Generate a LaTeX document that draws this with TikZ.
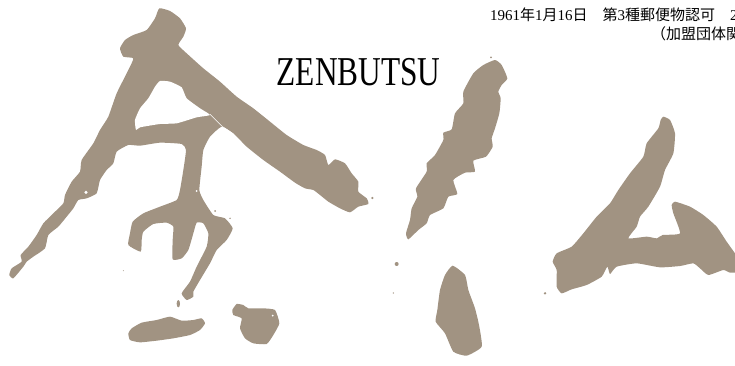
\documentclass[tikz,border=0pt]{standalone}
\usepackage{fontspec}
\setmainfont{Liberation Serif}
\newfontfamily\jpfont{Noto Sans CJK JP}
\definecolor{ink}{HTML}{A19382}
\tikzset{
  inkblob/.style={fill=ink,draw=none},
  gap/.style={fill=white,draw=none},
  cutline/.style={draw=white,line width=0.5pt},
  headline/.style={inner sep=0pt,anchor=base west,font=\fontsize{15}{18}\selectfont}
}
\newcommand{\sm}{plot[smooth cycle,tension=0.3] coordinates}
\begin{document}
\begin{tikzpicture}[x=0.33333pt,y=-0.33333pt]
\useasboundingbox (0,0) rectangle (2205,1095);
\clip (0,0) rectangle (2205,1095);
% nen: main body
\fill[inkblob] \sm {(478,25)(510,33)(540,55)(558,85)(550,110)(535,135)(560,160)(610,205)(660,245)(710,290)(760,325)(810,365)(860,405)(910,435)(950,450)(975,465)(985,495)(1005,478)(1035,490)(1055,520)(1075,545)(1075,575)(1100,595)(1105,612)(1075,620)(1050,637)(1020,625)(985,605)(960,585)(940,570)(915,565)(885,548)(840,515)(790,480)(740,440)(700,400)(665,380)(630,410)(610,450)(605,500)(598,570)(610,600)(640,645)(675,655)(698,685)(680,720)(650,750)(630,790)(600,840)(580,875)(580,890)(560,900)(545,880)(570,845)(590,800)(620,740)(625,700)(610,670)(590,668)(580,700)(565,750)(545,775)(518,778)(518,720)(520,680)(500,668)(460,672)(430,695)(425,720)(422,755)(385,735)(390,700)(398,665)(430,640)(480,620)(530,600)(540,570)(550,510)(558,450)(545,432)(480,428)(420,437)(385,435)(350,455)(340,490)(320,510)(300,540)(290,580)(260,595)(235,600)(220,625)(200,650)(175,680)(145,705)(135,745)(100,770)(80,785)(70,800)(40,835)(28,825)(35,805)(65,785)(62,765)(85,740)(110,705)(130,670)(160,640)(190,610)(195,585)(215,545)(240,515)(245,480)(280,430)(300,390)(325,350)(350,280)(385,210)(400,175)(370,170)(360,145)(375,120)(400,105)(440,90)(465,55)};
\fill[gap] \sm {(480,243)(510,245)(545,262)(560,295)(600,325)(630,345)(590,352)(530,370)(480,372)(420,382)(408,390)(405,360)(420,325)(445,295)(465,260)};
\draw[cutline] (630,343) -- (665,378) -- (700,402);
\fill[gap] (258,577) circle (5);
\fill[gap] (590,573) circle (3);
% nen: lower marks
\fill[inkblob] \sm {(385,1000)(395,985)(425,968)(470,960)(510,950)(545,962)(580,960)(605,955)(615,970)(600,990)(570,1005)(520,1015)(470,1022)(420,1027)(390,1020)};
\fill[inkblob] \sm {(697,930)(710,912)(730,915)(745,925)(790,925)(825,930)(838,970)(820,1005)(800,1032)(760,1030)(735,1015)(720,985)(725,955)(700,945)};
\fill[gap] (818,947) circle (3);
\fill[inkblob] (535,911) ellipse (5 and 11);
\fill[inkblob] (645,633) circle (3);
\fill[inkblob] (690,655) circle (2.5);
\fill[inkblob] (1117,594) circle (3.5);
\fill[inkblob] (370,812) circle (1.5);
% butsu: strokes (offset 1140)
\begin{scope}[shift={(1140,0)}]
\fill[inkblob] \sm {(345,180)(365,195)(382,235)(365,255)(355,275)(362,295)(358,340)(345,385)(335,415)(338,440)(318,470)(280,482)(285,515)(255,518)(220,540)(232,582)(205,590)(190,625)(150,645)(140,670)(115,690)(85,718)(78,700)(90,660)(95,625)(112,590)(108,565)(140,515)(140,490)(165,465)(190,420)(190,398)(215,388)(225,340)(250,310)(250,275)(280,220)(310,195)};
\fill[inkblob] \sm {(218,797)(255,825)(265,870)(285,925)(297,975)(305,1040)(260,1067)(220,1055)(195,1000)(167,965)(172,930)(180,870)(195,825)};
\fill[inkblob] \sm {(850,350)(870,360)(885,400)(880,460)(855,510)(840,560)(805,620)(780,650)(770,680)(745,715)(800,710)(830,715)(848,705)(900,700)(880,640)(875,615)(885,605)(930,620)(970,645)(1010,680)(1040,725)(1065,760)(1085,790)(1085,815)(1050,818)(1030,810)(985,825)(960,805)(940,790)(900,798)(840,802)(770,790)(710,800)(690,822)(682,800)(665,830)(620,855)(575,868)(545,880)(530,860)(530,810)(518,785)(530,760)(575,740)(610,700)(650,650)(690,610)(715,570)(750,520)(790,470)(800,430)(835,385)(842,360)};
\fill[inkblob] (50,792) circle (6);
\fill[inkblob] (40,879) circle (2);
\fill[inkblob] (495,880) circle (4);
\fill[inkblob] (333,172) circle (3);
\end{scope}
% texts
\node[inner sep=0pt,anchor=base west,xscale=0.765] (title) at (830,258) {\fontsize{41}{44}\selectfont ZENBUTSU};
\node[headline] (line1) at (1470,63) {1961\jpfont 年\rmfamily 1\jpfont 月\rmfamily 16\jpfont 日　第\rmfamily 3\jpfont 種郵便物認可　\rmfamily 2};
\node[headline] (line2) at (1953,120) {\jpfont （加盟団体関};
\end{tikzpicture}
\end{document}
